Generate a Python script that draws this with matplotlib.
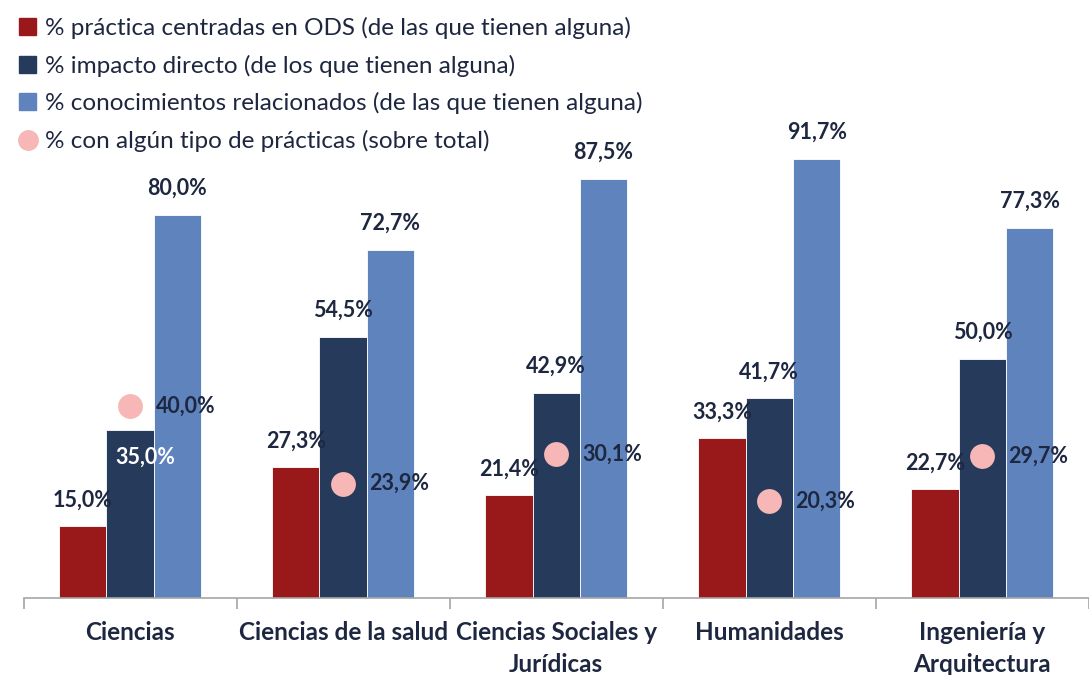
import numpy as np
import matplotlib
matplotlib.use("Agg")
import matplotlib.pyplot as plt
from matplotlib.lines import Line2D
from matplotlib.patches import Patch

plt.rcParams['font.family'] = ['Lato', 'DejaVu Sans']

# data
categorias = ["Ciencias", "Ciencias de la salud", "Ciencias Sociales y\nJurídicas",
              "Humanidades", "Ingeniería y\nArquitectura"]
practica_ods = [15.0, 27.3, 21.4, 33.3, 22.7]
impacto_directo = [35.0, 54.5, 42.9, 41.7, 50.0]
conocimientos = [80.0, 72.7, 87.5, 91.7, 77.3]
con_practicas = [40.0, 23.9, 30.1, 20.3, 29.7]

nombres = ["% práctica centradas en ODS (de las que tienen alguna)",
           "% impacto directo (de los que tienen alguna)",
           "% conocimientos relacionados (de las que tienen alguna)",
           "% con algún tipo de prácticas (sobre total)"]

rojo = "#99181a"
azul_osc = "#263a5c"
azul_cla = "#5f83bd"
rosa = "#f6b7b6"
texto = "#1e2740"

def fmt(v):
    return f"{v:.1f}%".replace(".", ",")

fig = plt.figure(figsize=(10.89, 6.75), dpi=100)
ax = fig.add_axes([23.5 / 1089, 77 / 675, 1065.5 / 1089, 479 / 675])

x = np.arange(len(categorias))
w = 0.222
series = [practica_ods, impacto_directo, conocimientos]
colores = [rojo, azul_osc, azul_cla]
for k, (vals, col) in enumerate(zip(series, colores)):
    pos = x + (k - 1) * w
    ax.bar(pos, vals, w, color=col, edgecolor="white", linewidth=0.6, zorder=2)
    for i, (p, v) in enumerate(zip(pos, vals)):
        if k == 1 and i == 0:
            # label drawn inside the bar in white
            ax.annotate(fmt(v), (p, v), xytext=(11, -19), textcoords="offset points",
                        ha="center", va="center", fontsize=15.5, fontweight="bold",
                        color="white", zorder=4)
        else:
            ax.annotate(fmt(v), (p, v), xytext=(0, 19), textcoords="offset points",
                        ha="center", va="center", fontsize=15.5, fontweight="bold",
                        color=texto, zorder=4)

ax.scatter(x, con_practicas, s=320, color=rosa, zorder=3, linewidths=0)
for xi, v in zip(x, con_practicas):
    ax.annotate(fmt(v), (xi, v), xytext=(18.5, 0), textcoords="offset points",
                ha="left", va="center", fontsize=15.5, fontweight="bold",
                color=texto, zorder=4)

ax.set_xlim(-0.5, -0.5 + 1065.5 / 215)
ax.set_ylim(0, 100)
ax.set_yticks([])
for s in ["top", "right", "left"]:
    ax.spines[s].set_visible(False)
ax.spines["bottom"].set_color("#a6a6a6")
ax.spines["bottom"].set_linewidth(1.2)

ax.set_xticks(np.arange(len(categorias) + 1) - 0.5)
ax.set_xticklabels([])
ax.tick_params(axis="x", length=8, color="#a6a6a6", width=1.2)
for xi, c in zip(x, categorias):
    ax.text(xi, -4.8, c, ha="center", va="top", fontsize=17.5, fontweight="bold",
            color=texto, linespacing=1.45, transform=ax.transData, clip_on=False)

handles = [Patch(color=rojo), Patch(color=azul_osc), Patch(color=azul_cla),
           Line2D([], [], marker="o", linestyle="none", markersize=14,
                  markerfacecolor=rosa, markeredgecolor=rosa)]
leg = fig.legend(handles, nombres, loc="upper left", bbox_to_anchor=(0.002, 1.0),
                 frameon=False, fontsize=17.5, handlelength=0.7, handleheight=0.7,
                 handletextpad=0.35, labelspacing=0.64, borderaxespad=0.3)
for t in leg.get_texts():
    t.set_color(texto)

fig.savefig("out.png", dpi=100)
